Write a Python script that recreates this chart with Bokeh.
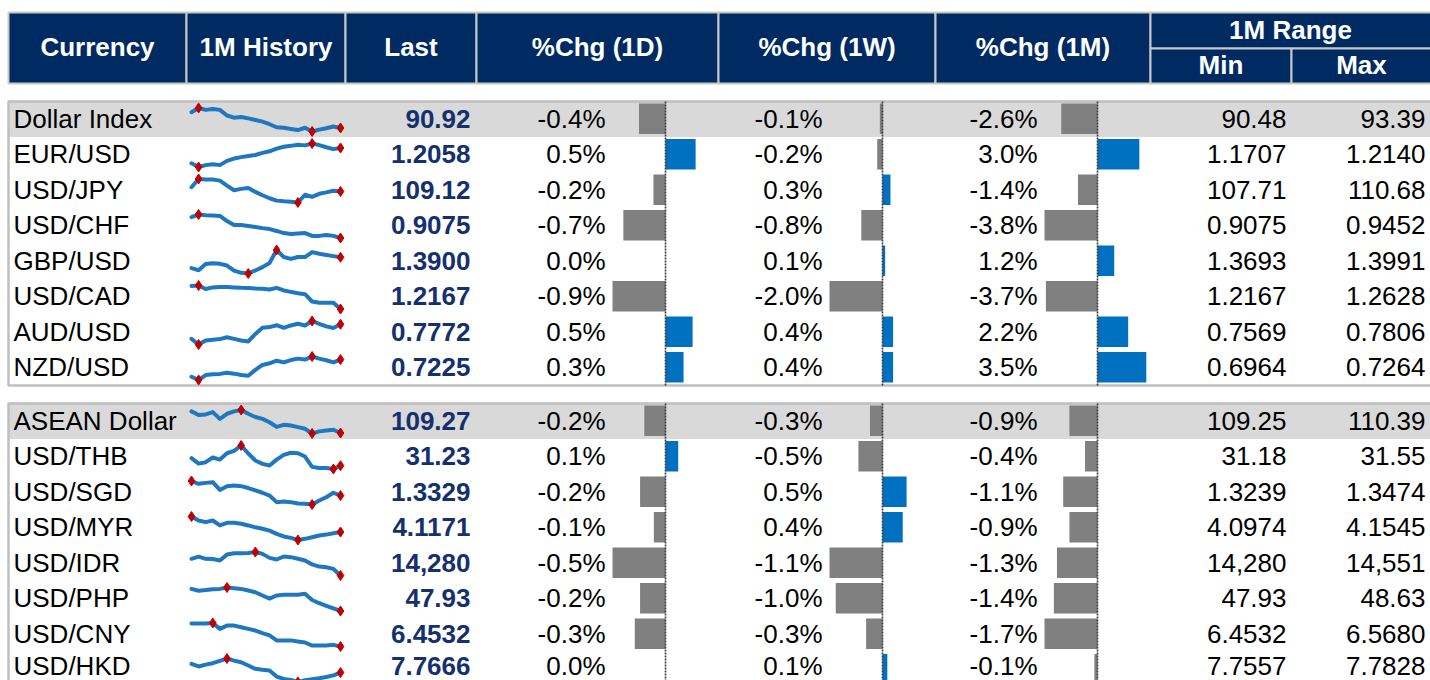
from bokeh.plotting import figure
from bokeh.models import Range1d
from bokeh.core.properties import value
from bokeh.embed import file_html
from bokeh.resources import INLINE

# ---------------- data ----------------
currencies = ["Dollar Index", "EUR/USD", "USD/JPY", "USD/CHF", "GBP/USD", "USD/CAD", "AUD/USD", "NZD/USD",
              "ASEAN Dollar", "USD/THB", "USD/SGD", "USD/MYR", "USD/IDR", "USD/PHP", "USD/CNY", "USD/HKD"]
section_of_row = [0, 0, 0, 0, 0, 0, 0, 0, 1, 1, 1, 1, 1, 1, 1, 1]
index_rows = [0, 8]
last = [90.92, 1.2058, 109.12, 0.9075, 1.3900, 1.2167, 0.7772, 0.7225,
        109.27, 31.23, 1.3329, 4.1171, 14280, 47.93, 6.4532, 7.7666]
decimals = [2, 4, 2, 4, 4, 4, 4, 4, 2, 2, 4, 4, 0, 2, 4, 4]
chg_1d = [-0.44, 0.50, -0.20, -0.70, 0.00, -0.88, 0.45, 0.30,
          -0.20, 0.12, -0.24, -0.11, -0.50, -0.24, -0.29, 0.00]
chg_1w = [-0.10, -0.20, 0.30, -0.80, 0.10, -2.00, 0.40, 0.40,
          -0.26, -0.50, 0.50, 0.42, -1.10, -0.97, -0.34, 0.10]
chg_1m = [-2.6, 3.0, -1.4, -3.8, 1.2, -3.7, 2.2, 3.5,
          -0.9, -0.4, -1.1, -0.9, -1.3, -1.4, -1.7, -0.1]
range_min = [90.48, 1.1707, 107.71, 0.9075, 1.3693, 1.2167, 0.7569, 0.6964,
             109.25, 31.18, 1.3239, 4.0974, 14280, 47.93, 6.4532, 7.7557]
range_max = [93.39, 1.2140, 110.68, 0.9452, 1.3991, 1.2628, 0.7806, 0.7264,
             110.39, 31.55, 1.3474, 4.1545, 14551, 48.63, 6.5680, 7.7828]
# 1M history, position within the month's range (0 = 1M low, 100 = 1M high)
history = [
    [82, 100, 92, 96, 92, 68, 59, 62, 56, 49, 42, 31, 18, 16, 11, 6, 16, 0, 8, 14, 21, 15],
    [16, 0, 8, 12, 8, 26, 36, 42, 47, 51, 60, 67, 78, 86, 90, 95, 92, 100, 93, 84, 76, 81],
    [65, 100, 98, 98, 93, 72, 52, 58, 62, 45, 31, 18, 8, 5, 3, 0, 33, 24, 37, 43, 50, 47],
    [89, 100, 97, 96, 94, 72, 55, 55, 51, 47, 42, 38, 30, 21, 17, 19, 21, 9, 9, 13, 9, 0],
    [23, 14, 40, 44, 41, 34, 12, 3, 0, 13, 27, 45, 100, 70, 62, 70, 70, 91, 84, 79, 74, 69],
    [98, 100, 85, 92, 94, 94, 92, 90, 89, 87, 86, 83, 90, 79, 73, 67, 63, 32, 27, 27, 27, 0],
    [24, 0, 17, 20, 23, 31, 24, 17, 13, 45, 71, 74, 82, 71, 81, 88, 81, 100, 88, 77, 70, 86],
    [14, 0, 21, 24, 26, 31, 27, 21, 18, 43, 64, 71, 82, 75, 85, 91, 87, 100, 91, 84, 75, 87],
    [94, 79, 81, 91, 62, 84, 94, 100, 84, 70, 62, 48, 28, 37, 34, 27, 20, 0, 9, 13, 16, 2],
    [46, 23, 29, 49, 40, 67, 77, 100, 66, 36, 22, 15, 40, 60, 69, 67, 53, 9, 4, 4, 0, 14],
    [100, 88, 92, 95, 62, 78, 81, 78, 70, 60, 50, 38, 10, 13, 10, 4, 3, 0, 17, 31, 50, 38],
    [100, 83, 76, 83, 62, 73, 73, 69, 62, 54, 48, 40, 26, 15, 9, 0, 5, 12, 19, 23, 29, 34],
    [71, 80, 71, 70, 64, 89, 95, 95, 96, 100, 92, 75, 68, 81, 78, 71, 64, 47, 38, 35, 28, 0],
    [94, 86, 89, 93, 94, 100, 97, 94, 87, 80, 66, 53, 66, 69, 69, 69, 73, 47, 33, 22, 11, 0],
    [98, 98, 98, 100, 75, 89, 89, 82, 75, 68, 57, 47, 26, 26, 26, 21, 17, 4, 4, 4, 7, 0],
    [77, 66, 74, 80, 90, 100, 91, 84, 70, 56, 52, 49, 23, 13, 9, 0, 8, 12, 16, 21, 28, 40],
]
headers = ["Currency", "1M History", "Last", "%Chg (1D)", "%Chg (1W)", "%Chg (1M)"]
range_header = "1M Range"
range_sub = ["Min", "Max"]

# ---------------- layout / styles ----------------
FONT = value("Liberation Sans")
NAVY = "#002A62"
LASTC = "#14306E"
GRID = "#BFBFBF"
HILITE = "#D9D9D9"
POS = "#0070C0"
NEG = "#808080"
LINEC = "#1F77C0"
MARK = "#C00000"

col_edges = [8, 186, 345, 476, 718, 935, 1150, 1291, 1432]
h_top, h_mid, h_bot = 12, 48, 83
section_tops = [101, 403]
row_h = 35.5
bar_half = 53

W, H = 1430, 680
p = figure(width=W, height=H, x_range=Range1d(0, W), y_range=Range1d(H, 0),
           output_backend="svg", toolbar_location=None, min_border=0,
           x_axis_type=None, y_axis_type=None)
p.grid.visible = False
p.outline_line_color = None
p.background_fill_color = "white"

n = len(currencies)
row_top = []
for i in range(n):
    s = section_of_row[i]
    k = i - section_of_row.index(s)
    row_top.append(section_tops[s] + k * row_h)
sec_bottom = [section_tops[s] + 8 * row_h for s in range(2)]

# header cells
hl, hr, ht, hb = [], [], [], []
for c in range(6):
    hl.append(col_edges[c]); hr.append(col_edges[c + 1]); ht.append(h_top); hb.append(h_bot)
hl += [col_edges[6], col_edges[6], col_edges[7]]
hr += [col_edges[8], col_edges[7], col_edges[8]]
ht += [h_top, h_mid, h_mid]
hb += [h_mid, h_bot, h_bot]
p.quad(left=hl, right=hr, top=ht, bottom=hb, fill_color=NAVY, line_color="#C8C8C8", line_width=2)

hx = [(col_edges[c] + col_edges[c + 1]) / 2 for c in range(6)]
p.text(x=hx, y=[(h_top + h_bot) / 2 - 1] * 6, text=headers, text_font=FONT, text_font_size="26px",
       text_font_style="bold", text_color="white", text_align="center", text_baseline="middle")
p.text(x=[1290, (col_edges[6] + col_edges[7]) / 2, 1361],
       y=[(h_top + h_mid) / 2 - 1, (h_mid + h_bot) / 2 - 1, (h_mid + h_bot) / 2 - 1],
       text=[range_header] + range_sub, text_font=FONT, text_font_size="26px",
       text_font_style="bold", text_color="white", text_align="center", text_baseline="middle")

# highlighted index rows
p.quad(left=[col_edges[0]] * len(index_rows), right=[col_edges[-1]] * len(index_rows),
       top=[row_top[i] for i in index_rows], bottom=[row_top[i] + row_h for i in index_rows],
       fill_color=HILITE, line_color=None)

# section frames
p.quad(left=[col_edges[0]] * 2, right=[col_edges[-1]] * 2, top=section_tops, bottom=sec_bottom,
       fill_color=None, line_color=GRID, line_width=2.5)

# data bars
for c, vals in zip([3, 4, 5], [chg_1d, chg_1w, chg_1m]):
    axis_x = col_edges[c + 1] - bar_half
    scale = []
    for s in range(2):
        mx = max(abs(v) for v, ss in zip(vals, section_of_row) if ss == s)
        scale.append(bar_half / mx)
    left, right, top, bottom, colors = [], [], [], [], []
    for i, v in enumerate(vals):
        if v == 0:
            continue
        ln = abs(v) * scale[section_of_row[i]]
        if v > 0:
            left.append(axis_x); right.append(axis_x + ln); colors.append(POS)
        else:
            left.append(axis_x - ln); right.append(axis_x); colors.append(NEG)
        top.append(row_top[i] + 2); bottom.append(row_top[i] + 32.5)
    p.quad(left=left, right=right, top=top, bottom=bottom, fill_color=colors, line_color=None)
    p.segment(x0=[axis_x] * 2, x1=[axis_x] * 2, y0=section_tops, y1=sec_bottom,
              line_color="#3A3A3A", line_width=1.6, line_dash="2 1")

# sparklines
sx0, sx1 = 191, 340
xs, ys, mx_, my_ = [], [], [], []
for i, h in enumerate(history):
    m = len(h)
    xx = [sx0 + j * (sx1 - sx0) / (m - 1) for j in range(m)]
    yy = [row_top[i] + 6.5 + (100 - v) / 100 * 23.5 for v in h]
    xs.append(xx); ys.append(yy)
    for j in sorted({h.index(max(h)), h.index(min(h)), m - 1}):
        mx_.append(xx[j]); my_.append(yy[j])
p.multi_line(xs=xs, ys=ys, line_color=LINEC, line_width=4, line_join="round", line_cap="round")
p.scatter(x=mx_, y=my_, marker="diamond", size=10, fill_color=MARK, line_color=MARK)

# texts (kept inside the page at the bottom edge)
ty = [min(t + 17, H - 15) for t in row_top]
fmt = lambda v, d: f"{v:,.{d}f}"
p.text(x=[13] * n, y=ty, text=currencies, text_font=FONT, text_font_size="26px",
       text_color="black", text_align="left", text_baseline="middle")
p.text(x=[470] * n, y=ty, text=[fmt(v, d) for v, d in zip(last, decimals)], text_font=FONT,
       text_font_size="26px", text_font_style="bold", text_color=LASTC, text_align="right",
       text_baseline="middle")
for xr, vals in zip([605, 822, 1037], [chg_1d, chg_1w, chg_1m]):
    p.text(x=[xr] * n, y=ty, text=[f"{v:.1f}%" for v in vals], text_font=FONT, text_font_size="26px",
           text_color="black", text_align="right", text_baseline="middle")
p.text(x=[1286] * n, y=ty, text=[fmt(v, d) for v, d in zip(range_min, decimals)], text_font=FONT,
       text_font_size="26px", text_color="black", text_align="right", text_baseline="middle")
p.text(x=[1425] * n, y=ty, text=[fmt(v, d) for v, d in zip(range_max, decimals)], text_font=FONT,
       text_font_size="26px", text_color="black", text_align="right", text_baseline="middle")

open("out.html", "w").write(file_html(p, INLINE))
